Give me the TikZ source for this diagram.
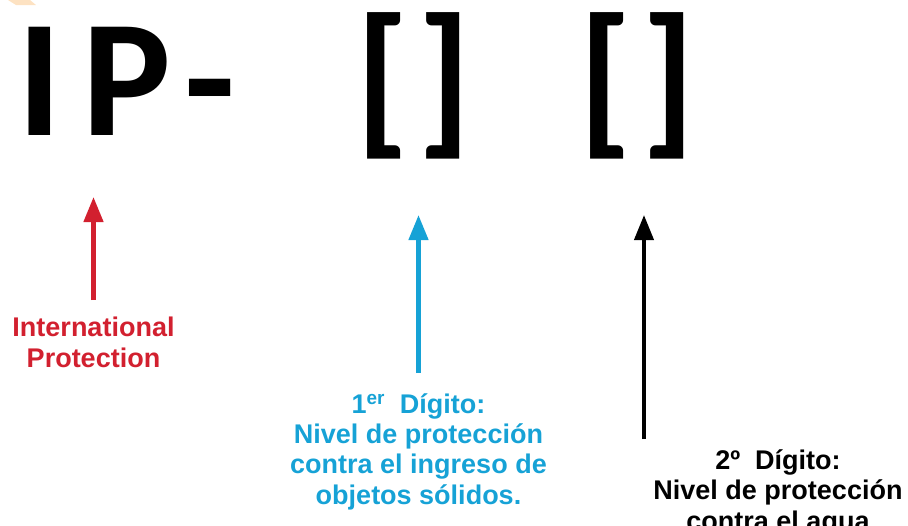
\documentclass[tikz,border=0pt]{standalone}
\usepackage{fontspec}
\setmainfont{Liberation Sans}
\newfontfamily\bigfont{Carlito}
\usetikzlibrary{arrows.meta}
\definecolor{ipred}{HTML}{D2202F}
\definecolor{ipblue}{HTML}{16A2D6}
\definecolor{iporange}{HTML}{FDE2C2}
\tikzset{
  bigglyph/.style={anchor=base west, inner sep=0pt, font=\bigfont\bfseries\fontsize{167}{167}\selectfont},
  label/.style={anchor=base, inner sep=0pt, align=center, font=\bfseries\fontsize{27}{30.3}\selectfont},
  uparrow/.style={line width=4.5pt, -{Triangle[length=25pt,width=19pt]}},
}
\begin{document}
\begin{tikzpicture}[x=1pt,y=-1pt]
\useasboundingbox (0,0) rectangle (908,525);
\fill[iporange] (8,0) -- (30,0) -- (36,5) -- (16,5) -- cycle;
% big text
\node[bigglyph] (gI) at (17,135) {I};
\node[bigglyph] (gP) at (82,135) {P};
\node[bigglyph] (gH) at (184,135) {-};
\node[bigglyph] (b1l) at (355,134) {[};
\node[bigglyph] (b1r) at (417,134) {]};
\node[bigglyph] (b2l) at (578,134) {[};
\node[bigglyph] (b2r) at (641,134) {]};
% labels
\node[label, text=ipred] (lred) at (93.5,367) {International\\Protection};
\node[label, text=ipblue] (lblue) at (418.5,504) {1\textsuperscript{er}\ \ Dígito:\\Nivel de protección\\contra el ingreso de\\objetos sólidos.};
\node[label, text=black] (lblack) at (778,530) {2º\ \ Dígito:\\Nivel de protección\\contra el agua};
% arrow anchors
\coordinate (rs) at (93.5,300);
\coordinate (bs) at (418.5,373);
\coordinate (ks) at (644,439);
\coordinate (rt) at (93.5,197);
\coordinate (bt) at (418.5,215);
\coordinate (kt) at (644,215);
\draw[uparrow, ipred] (rs) -- (rt);
\draw[uparrow, ipblue] (bs) -- (bt);
\draw[uparrow, black, line width=4pt] (ks) -- (kt);
\end{tikzpicture}
\end{document}
